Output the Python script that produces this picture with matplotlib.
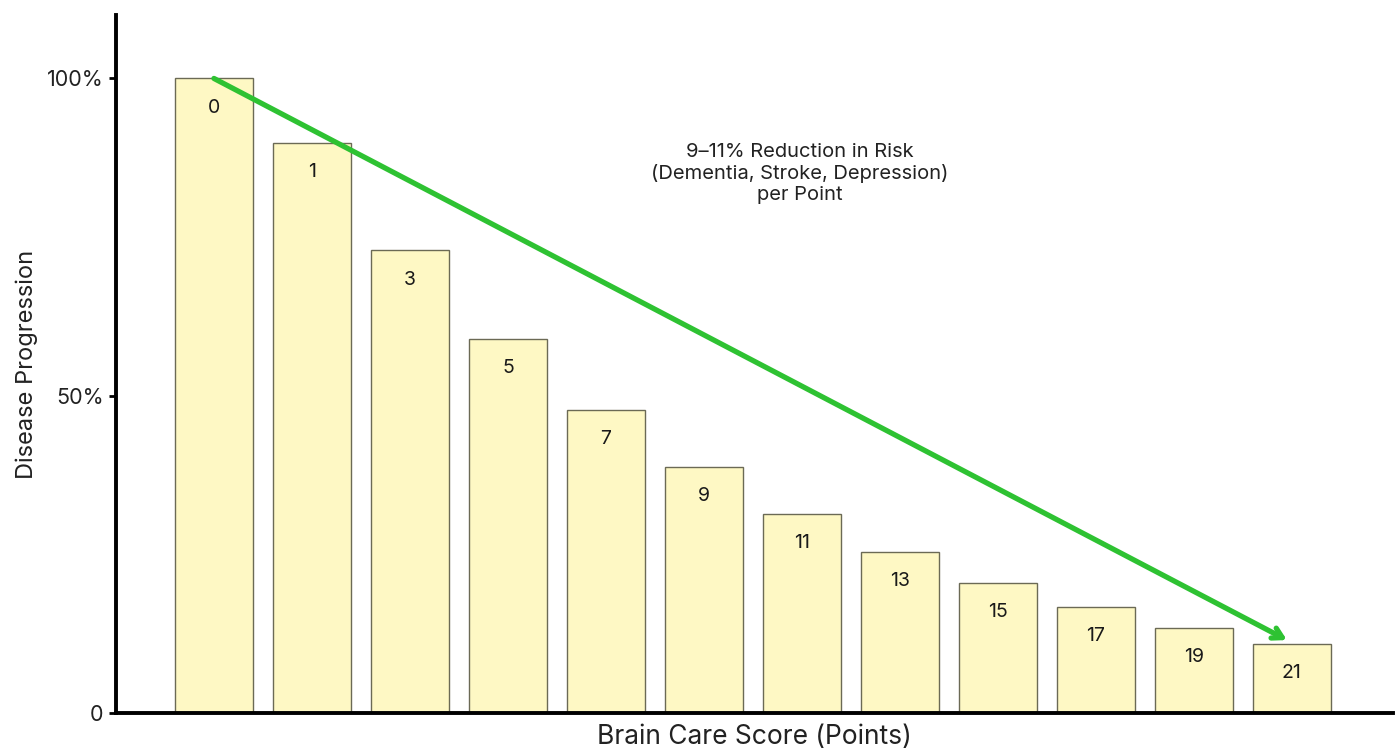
import numpy as np
import matplotlib.pyplot as plt

# Data
scores = ['0', '1', '3', '5', '7', '9', '11', '13', '15', '17', '19', '21']
progression = [100.0, 89.9, 72.9, 59.0, 47.8, 38.8, 31.4, 25.4, 20.5, 16.7, 13.4, 10.9]
y_ticks = [0, 50, 100]
y_tick_labels = ['0', '50%', '100%']
note = '9\u201311% Reduction in Risk\n(Dementia, Stroke, Depression)\nper Point'

plt.rcParams['font.family'] = ['Inter', 'DejaVu Sans']

fig = plt.figure(figsize=(13.97, 7.49), dpi=100)
ax = fig.add_axes([0.083, 0.048, 0.914, 0.932])

x = np.arange(len(scores))
bars = ax.bar(x, progression, width=0.8, color='#fef8c4', edgecolor='#6b6a55', linewidth=1.0)

# score labels inside the bars
for xi, v, s in zip(x, progression, scores):
    ax.annotate(s, (xi, v), xytext=(0, -21), textcoords='offset points',
                ha='center', va='center', fontsize=14, color='#1a1a1a')

# trend arrow from the first bar to just above the last one
ax.annotate('', xy=(x[-1] - 0.05, progression[-1] + 0.6), xytext=(x[0], progression[0]),
            arrowprops=dict(arrowstyle='->,head_length=0.7,head_width=0.4', color='#2ec232',
                            lw=3.8, shrinkA=0, shrinkB=0))

ax.text(5.98, 85.0, note, ha='center', va='center', fontsize=14.5, color='#222222', linespacing=1.2)

ax.set_xlim(-1.0, 12.03)
ax.set_ylim(0, 110)
ax.set_xticks([])
ax.set_yticks(y_ticks)
ax.set_yticklabels(y_tick_labels, fontsize=15.5, color='#222222')
ax.tick_params(axis='y', length=5, width=2, pad=4)

for side in ['top', 'right']:
    ax.spines[side].set_visible(False)
ax.spines['left'].set_linewidth(2.8)
ax.spines['bottom'].set_linewidth(2.8)

ax.set_xlabel('Brain Care Score (Points)', fontsize=19, color='#222222', labelpad=8)
ax.set_ylabel('Disease Progression', fontsize=17, color='#222222', labelpad=6)

fig.savefig('out.png', dpi=100)
